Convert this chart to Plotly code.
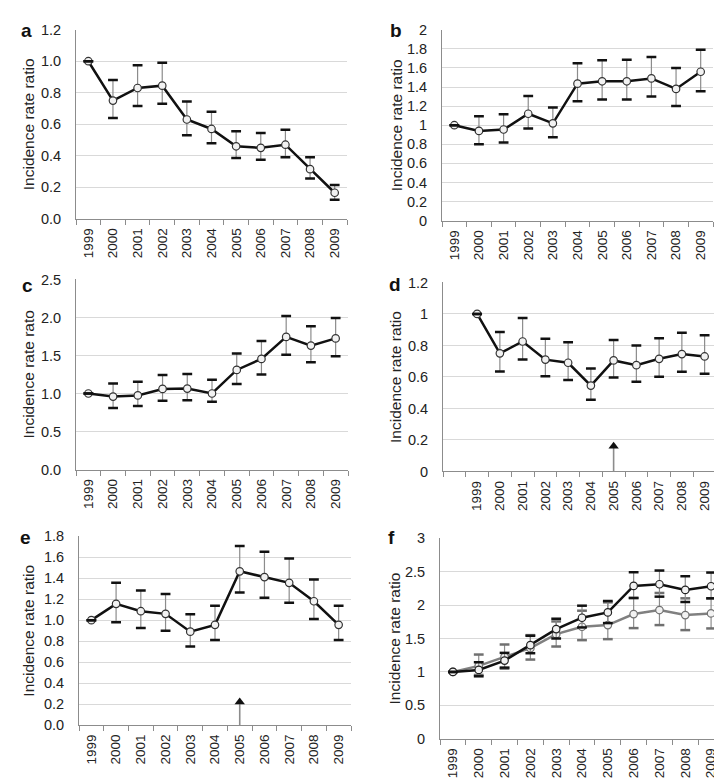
import plotly.graph_objects as go

years = ["1999", "2000", "2001", "2002", "2003", "2004", "2005", "2006", "2007", "2008", "2009"]
d_cats = [" "] + years

# Panel a
a_irr = [1.0, 0.75, 0.83, 0.845, 0.63, 0.57, 0.46, 0.45, 0.47, 0.315, 0.165]
a_lo = [1.0, 0.64, 0.715, 0.73, 0.53, 0.48, 0.385, 0.375, 0.39, 0.255, 0.12]
a_hi = [1.0, 0.88, 0.975, 0.99, 0.745, 0.68, 0.555, 0.545, 0.565, 0.39, 0.215]

# Panel b
b_irr = [1.0, 0.94, 0.955, 1.12, 1.02, 1.435, 1.46, 1.46, 1.49, 1.38, 1.56]
b_lo = [1.0, 0.80, 0.82, 0.965, 0.875, 1.25, 1.27, 1.27, 1.30, 1.20, 1.355]
b_hi = [1.0, 1.095, 1.115, 1.305, 1.185, 1.65, 1.68, 1.685, 1.715, 1.60, 1.79]

# Panel c
c_irr = [1.0, 0.96, 0.975, 1.06, 1.065, 1.0, 1.31, 1.455, 1.745, 1.63, 1.725]
c_lo = [1.0, 0.81, 0.835, 0.905, 0.91, 0.89, 1.125, 1.25, 1.51, 1.41, 1.49]
c_hi = [1.0, 1.13, 1.155, 1.245, 1.255, 1.18, 1.525, 1.69, 2.02, 1.885, 1.995]

# Panel d
d_irr = [1.0, 0.75, 0.825, 0.71, 0.69, 0.545, 0.705, 0.675, 0.715, 0.745, 0.73]
d_lo = [1.0, 0.635, 0.71, 0.605, 0.58, 0.455, 0.597, 0.57, 0.602, 0.633, 0.62]
d_hi = [1.0, 0.885, 0.975, 0.842, 0.82, 0.654, 0.835, 0.80, 0.845, 0.88, 0.865]

# Panel e
e_irr = [1.0, 1.155, 1.085, 1.06, 0.89, 0.955, 1.465, 1.41, 1.355, 1.18, 0.955]
e_lo = [1.0, 0.98, 0.925, 0.90, 0.75, 0.812, 1.263, 1.213, 1.165, 1.01, 0.812]
e_hi = [1.0, 1.357, 1.283, 1.248, 1.056, 1.137, 1.707, 1.652, 1.586, 1.388, 1.137]

# Panel f (two series)
f1_irr = [1.0, 1.03, 1.17, 1.40, 1.64, 1.81, 1.89, 2.285, 2.31, 2.225, 2.28]
f1_lo = [1.0, 0.935, 1.065, 1.28, 1.50, 1.665, 1.73, 2.105, 2.125, 2.045, 2.10]
f1_hi = [1.0, 1.145, 1.285, 1.54, 1.795, 1.99, 2.06, 2.49, 2.515, 2.43, 2.485]
f2_irr = [1.0, 1.09, 1.225, 1.355, 1.565, 1.675, 1.70, 1.865, 1.925, 1.85, 1.875]
f2_lo = [1.0, 0.955, 1.05, 1.185, 1.38, 1.475, 1.49, 1.655, 1.70, 1.625, 1.65]
f2_hi = [1.0, 1.26, 1.41, 1.55, 1.755, 1.915, 2.04, 2.105, 2.18, 2.10, 2.10]

arrow_year = "2005"
d_arrow = (0.0, 0.16)   # base, head centre
e_arrow = (0.0, 0.22)

W, H = 722, 781
# plot areas in pixels: left, right, top, bottom
areas = {
    1: (68, 339, 14, 207),
    2: (434, 705, 14, 209),
    3: (68, 340, 269, 463),
    4: (435, 708, 272, 465),
    5: (71, 343, 531, 724),
    6: (432, 716, 533, 738),
}
yranges = {1: (0, 1.2, 0.2, ".1f"), 2: (0, 2, 0.2, ""), 3: (0, 2.5, 0.5, ".1f"),
           4: (0, 1.2, 0.2, ""), 5: (0, 1.8, 0.2, ".1f"), 6: (0, 3, 0.5, "")}
titles = {1: "Incidence rate ratio", 2: "Incidence rate ratio", 3: "Incidence rate rato",
          4: "Incidence rate ratio", 5: "Incidence rate ratio", 6: "Incidence rate ratio"}
title_x = {1: 20, 2: 388, 3: 21, 4: 388, 5: 21, 6: 386}
letters = {1: ("a", 18, 15), 2: ("b", 388, 15), 3: ("c", 19, 275), 4: ("d", 387, 274),
           5: ("e", 17.5, 532), 6: ("f", 383, 532)}

FONT = "Liberation Sans, Arial, sans-serif"
TXT = "#222222"
AXC = "#8c8c8c"
GRID = "#d9d9d9"

fig = go.Figure()


def add_series(i, xs, y, lo, hi, line_color, cap_color, mk_line):
    xa = "x" if i == 1 else f"x{i}"
    ya = "y" if i == 1 else f"y{i}"
    plus = [h - v for h, v in zip(hi, y)]
    minus = [v - l for v, l in zip(y, lo)]
    fig.add_trace(go.Scatter(
        x=xs, y=y, xaxis=xa, yaxis=ya, mode="markers",
        marker=dict(color="rgba(0,0,0,0)", size=1),
        error_y=dict(type="data", symmetric=False, array=plus, arrayminus=minus,
                     color="#8c8c8c", thickness=1.2, width=0),
        showlegend=False, hoverinfo="skip"))
    fig.add_trace(go.Scatter(
        x=xs, y=y, xaxis=xa, yaxis=ya, mode="lines+markers",
        line=dict(color=line_color, width=2.5),
        marker=dict(symbol="circle", size=7.5, color="#f2f2f2",
                    line=dict(color=mk_line, width=1.2)),
        showlegend=False))
    fig.add_trace(go.Scatter(
        x=xs + xs, y=hi + lo, xaxis=xa, yaxis=ya, mode="markers",
        marker=dict(symbol="line-ew", size=7, line=dict(width=2.5, color=cap_color)),
        showlegend=False, hoverinfo="skip"))


add_series(1, years, a_irr, a_lo, a_hi, "#111111", "#111111", "#333333")
add_series(2, years, b_irr, b_lo, b_hi, "#111111", "#111111", "#333333")
add_series(3, years, c_irr, c_lo, c_hi, "#111111", "#111111", "#333333")
add_series(4, years, d_irr, d_lo, d_hi, "#111111", "#111111", "#333333")
add_series(5, years, e_irr, e_lo, e_hi, "#111111", "#111111", "#333333")
add_series(6, years, f2_irr, f2_lo, f2_hi, "#808080", "#707070", "#707070")
add_series(6, years, f1_irr, f1_lo, f1_hi, "#111111", "#111111", "#222222")

# arrows (gray shaft + black head)
for i, (base, head) in ((4, d_arrow), (5, e_arrow)):
    xa = f"x{i}"
    ya = f"y{i}"
    fig.add_trace(go.Scatter(x=[arrow_year, arrow_year], y=[base, head], xaxis=xa, yaxis=ya,
                             mode="lines", line=dict(color="#8c8c8c", width=1.6),
                             showlegend=False, hoverinfo="skip", cliponaxis=False))
    fig.add_trace(go.Scatter(x=[arrow_year], y=[head], xaxis=xa, yaxis=ya, mode="markers",
                             marker=dict(symbol="triangle-up", size=9, color="#111111"),
                             showlegend=False, hoverinfo="skip"))

annotations = []
layout = dict(width=W, height=H, margin=dict(l=0, r=0, t=0, b=0),
              paper_bgcolor="white", plot_bgcolor="white", showlegend=False,
              font=dict(family=FONT, color=TXT))

for i in range(1, 7):
    l, r, t, b = areas[i]
    lo_, hi_, dt, fmt = yranges[i]
    xk = "xaxis" if i == 1 else f"xaxis{i}"
    yk = "yaxis" if i == 1 else f"yaxis{i}"
    ya = "y" if i == 1 else f"y{i}"
    xa = "x" if i == 1 else f"x{i}"
    cats = d_cats if i == 4 else years
    layout[xk] = dict(domain=[l / W, r / W], anchor=ya, type="category",
                      categoryorder="array", categoryarray=cats,
                      range=[-0.5, len(cats) - 0.5], tickson="boundaries",
                      ticks="outside", ticklen=5, tickcolor=AXC, tickwidth=1,
                      showline=True, linecolor=AXC, linewidth=1, showgrid=False,
                      tickangle=-90, tickfont=dict(size=13.5, family=FONT, color=TXT),
                      ticklabelstandoff=3, fixedrange=True)
    layout[yk] = dict(domain=[1 - b / H, 1 - t / H], anchor=xa, range=[lo_, hi_],
                      dtick=dt, tick0=0, tickformat=fmt, showline=True, linecolor=AXC,
                      linewidth=1, showgrid=True, gridcolor=GRID, gridwidth=1,
                      zeroline=False, ticks="", tickfont=dict(size=14.5, family=FONT, color=TXT),
                      ticklabelstandoff=11, fixedrange=True)
    annotations.append(dict(x=title_x[i] / W, y=1 - (t + b) / 2 / H, xref="paper", yref="paper",
                            text=titles[i], showarrow=False, textangle=-90,
                            font=dict(size=15.5, family=FONT, color=TXT),
                            xanchor="center", yanchor="middle"))
    let, lx, ly = letters[i]
    annotations.append(dict(x=lx / W, y=1 - ly / H, xref="paper", yref="paper",
                            text=f"<b>{let}</b>", showarrow=False,
                            font=dict(size=19, family=FONT, color="#111111"),
                            xanchor="center", yanchor="middle"))

layout["annotations"] = annotations
fig.update_layout(**layout)
fig.write_html("out.html")
